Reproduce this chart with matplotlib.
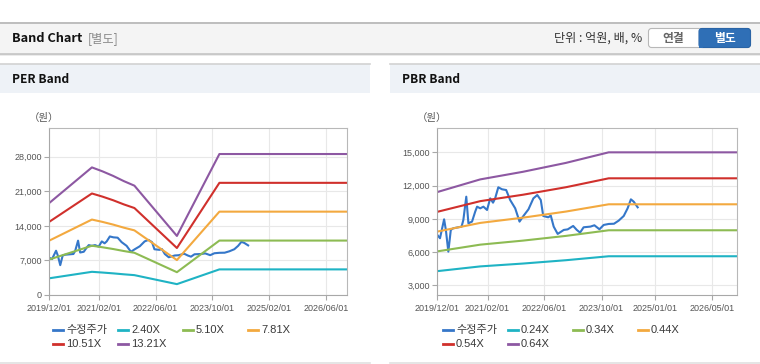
import matplotlib
matplotlib.use("Agg")
import matplotlib.pyplot as plt
import matplotlib.dates as mdates
from matplotlib.patches import Rectangle, FancyBboxPatch
from matplotlib.lines import Line2D
import pandas as pd

plt.rcParams['font.family'] = ['Liberation Sans', 'Noto Sans CJK KR', 'DejaVu Sans']

# 수정주가 (both charts share the same price line)
price_dates = ['2019-12-01', '2019-12-24', '2020-01-28', '2020-02-12', '2020-03-04', '2020-03-25',
               '2020-04-15', '2020-06-25', '2020-07-10', '2020-08-04', '2020-08-22', '2020-09-22',
               '2020-10-19', '2020-11-04', '2020-12-01', '2020-12-28', '2021-01-28', '2021-02-24',
               '2021-03-20', '2021-04-07', '2021-05-04', '2021-06-04', '2021-07-10', '2021-08-13',
               '2021-09-25', '2021-11-01', '2021-12-04', '2022-01-16', '2022-02-27', '2022-04-01',
               '2022-05-01', '2022-05-22', '2022-07-04', '2022-07-25', '2022-08-19', '2022-09-22',
               '2022-11-13', '2022-12-16', '2023-02-01', '2023-03-04', '2023-04-01', '2023-05-01',
               '2023-06-28', '2023-08-01', '2023-09-13', '2023-10-19', '2023-12-01', '2024-01-15',
               '2024-02-24', '2024-04-07', '2024-05-10', '2024-06-07', '2024-07-01', '2024-08-04']
price = [7550, 7250, 8960, 8000, 6040, 8000,
         8150, 8300, 8900, 11000, 8600, 8750,
         9650, 10100, 9950, 10100, 9800, 10850,
         10460, 10850, 11850, 11670, 11600, 10700,
         9950, 8750, 9260, 9860, 10850, 11150,
         10700, 9260, 9140, 9300, 8300, 7640,
         8000, 8050, 8360, 8000, 7760, 8240,
         8300, 8420, 8060, 8450, 8540, 8560,
         8840, 9260, 9950, 10760, 10550, 10040]

# PER band
per_dates = ['2019-12-01', '2020-12-01', '2021-03-01', '2021-06-01', '2021-09-01',
             '2021-12-01', '2022-12-01', '2023-12-01', '2026-12-01']
per_240 = [3384, 4692, 4548, 4380, 4188, 4020, 2200, 5184, 5184]
per_510 = [7191, 9971, 9665, 9308, 8900, 8543, 4616, 11016, 11016]
per_781 = [11012, 15269, 14800, 14253, 13628, 13082, 7068, 16870, 16870]
per_1051 = [14819, 20547, 19916, 19181, 18340, 17604, 9512, 22702, 22702]
per_1321 = [18626, 25826, 25033, 24108, 23051, 22127, 11955, 28534, 28534]
per_labels = ['수정주가', '2.40X', '5.10X', '7.81X', '10.51X', '13.21X']
per_ticks = ['2019-12-01', '2021-02-01', '2022-06-01', '2023-10-01', '2025-02-01', '2026-06-01']

# PBR band
pbr_dates = ['2019-12-01', '2020-12-01', '2021-12-01', '2022-12-01', '2023-12-01', '2026-12-01']
pbr_024 = [4282, 4710, 4968, 5268, 5626, 5626]
pbr_034 = [6066, 6672, 7038, 7463, 7970, 7970]
pbr_044 = [7850, 8634, 9108, 9658, 10314, 10314]
pbr_054 = [9634, 10597, 11178, 11853, 12658, 12658]
pbr_064 = [11418, 12560, 13248, 14048, 15002, 15002]
pbr_labels = ['수정주가', '0.24X', '0.34X', '0.44X', '0.54X', '0.64X']
pbr_ticks = ['2019-12-01', '2021-02-01', '2022-06-01', '2023-10-01', '2025-01-01', '2026-05-01']

colors = ['#3577c9', '#1fb3c4', '#8dbb53', '#f3a93f', '#d0302c', '#8d58a2']

W, H = 760, 364
fig = plt.figure(figsize=(W / 100, H / 100), dpi=100)
fig.patch.set_facecolor('white')

# pixel-space background layer
bg = fig.add_axes([0, 0, 1, 1])
bg.set_xlim(0, W)
bg.set_ylim(H, 0)
bg.axis('off')

# top header strip
bg.add_patch(Rectangle((0, 54), W, 2, color='#ebebeb', lw=0))
bg.add_patch(Rectangle((0, 22), W, 31, facecolor='#f4f4f4', edgecolor='none'))
bg.plot([0, W], [22.5, 22.5], color='#b4b4b4', lw=1.2)
bg.plot([0, W], [53.5, 53.5], color='#c2c2c2', lw=1.2)
bg.text(12, 38.5, 'Band Chart', fontsize=9.2, fontweight='bold', family=['Noto Sans CJK KR'],
        va='center', ha='left', color='#111111')
bg.text(88, 38.5, '[별도]', fontsize=8.8, family=['Noto Sans CJK KR'], va='center', ha='left',
        color='#8a8a8a')
bg.text(642, 38.5, '단위 : 억원, 배, %', fontsize=8.7, family=['Noto Sans CJK KR'], va='center',
        ha='right', color='#333333')
bg.add_patch(FancyBboxPatch((648.5, 28.5), 102, 19, boxstyle='round,pad=0,rounding_size=3',
                            facecolor='white', edgecolor='#b8b8b8', lw=0.8))
bg.add_patch(FancyBboxPatch((699, 28.5), 51.5, 19, boxstyle='round,pad=0,rounding_size=3',
                            facecolor='#2f6fb6', edgecolor='#2a64a6', lw=0.8))
bg.add_patch(Rectangle((699, 28.5), 4, 19, facecolor='#2f6fb6', edgecolor='none'))
bg.text(673.5, 38.5, '연결', fontsize=8.5, fontweight='bold', family=['Noto Sans CJK KR'],
        va='center', ha='center', color='#666666')
bg.text(725, 38.5, '별도', fontsize=8.5, fontweight='bold', family=['Noto Sans CJK KR'],
        va='center', ha='center', color='white')

# panels
for x0, x1, title in [(0, 370, 'PER Band'), (390, W, 'PBR Band')]:
    bg.add_patch(Rectangle((x0, 64), x1 - x0, 29, facecolor='#eef2f7', edgecolor='none'))
    bg.plot([x0, x1], [64, 64], color='#d2d2d2', lw=1.2)
    bg.plot([x0, x1], [362.5, 362.5], color='#e0e0e0', lw=1.2)
    bg.text(x0 + 12, 79.5, title, fontsize=8.6, fontweight='bold', family=['Noto Sans CJK KR'],
            va='center', ha='left', color='#111111')


def make_axes(left, right, top, bottom):
    return fig.add_axes([left / W, 1 - bottom / H, (right - left) / W, (bottom - top) / H])


def style_axes(ax, ticks):
    for s in ax.spines.values():
        s.set_color('#b8b8b8')
        s.set_linewidth(0.8)
    ax.spines['left'].set_color('#a8a8a8')
    ax.spines['bottom'].set_color('#a8a8a8')
    ax.grid(True, color='#e8e8e8', lw=0.8)
    ax.set_axisbelow(True)
    ax.set_xticks(pd.to_datetime(ticks))
    ax.xaxis.set_major_formatter(mdates.DateFormatter('%Y/%m/%d'))
    ax.yaxis.set_major_formatter(matplotlib.ticker.FuncFormatter(lambda v, p: f'{int(v):,}'))
    ax.tick_params(axis='both', colors='#a8a8a8', labelcolor='#555555', labelsize=6.5,
                   length=3.5, width=0.8, pad=2)
    ax.tick_params(axis='x', pad=3)
    ax.set_xlim(pd.Timestamp('2019-12-01'), pd.Timestamp('2026-12-01'))


def draw_chart(ax, band_dates, bands):
    ax.plot(pd.to_datetime(price_dates), price, color=colors[0], lw=1.5)
    for vals, c in zip(bands, colors[1:]):
        ax.plot(pd.to_datetime(band_dates), vals, color=c, lw=1.5)


def draw_legend(x0, labels):
    xs = [x0, x0 + 65, x0 + 130, x0 + 195]
    for i, (lab, c) in enumerate(zip(labels, colors)):
        x = xs[i % 4]
        y = 330 if i < 4 else 344
        bg.add_line(Line2D([x, x + 10], [y, y], color=c, lw=2))
        bg.text(x + 13, y, lab, fontsize=8, va='center', ha='left', color='#3a3a3a')


# PER chart
ax1 = make_axes(49.3, 347, 128.3, 295)
draw_chart(ax1, per_dates, [per_240, per_510, per_781, per_1051, per_1321])
style_axes(ax1, per_ticks)
ax1.set_ylim(0, 33740)
ax1.set_yticks([0, 7000, 14000, 21000, 28000])
bg.text(44, 118.5, '（원）', fontsize=7.5, va='center', ha='center', color='#555555',
        family=['Noto Sans CJK KR'])
draw_legend(53, per_labels)

# PBR chart
ax2 = make_axes(437.3, 737.3, 128.3, 295)
draw_chart(ax2, pbr_dates, [pbr_024, pbr_034, pbr_044, pbr_054, pbr_064])
style_axes(ax2, pbr_ticks)
ax2.set_ylim(2130, 17170)
ax2.set_yticks([3000, 6000, 9000, 12000, 15000])
bg.text(432, 118.5, '（원）', fontsize=7.5, va='center', ha='center', color='#555555',
        family=['Noto Sans CJK KR'])
draw_legend(443, pbr_labels)

fig.savefig('out.png', dpi=100)
